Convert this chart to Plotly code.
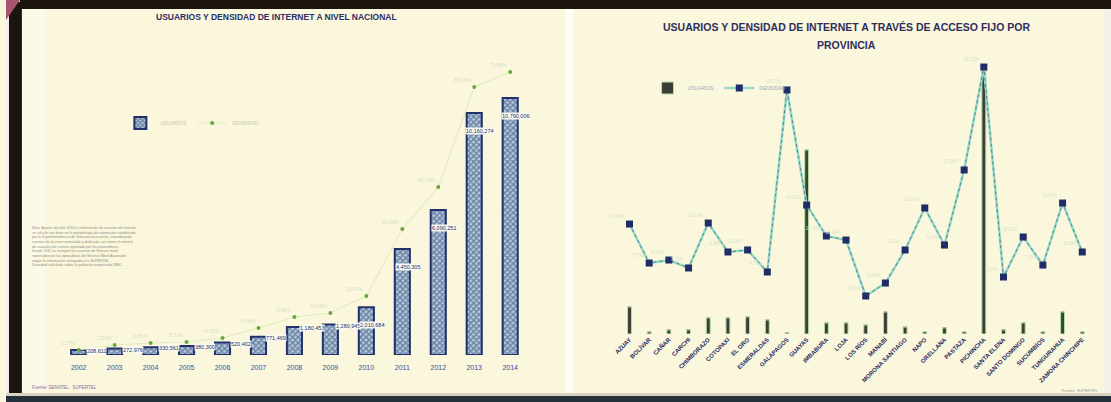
import plotly.graph_objects as go

# ---------------- data ----------------
years = ["2002", "2003", "2004", "2005", "2006", "2007", "2008",
         "2009", "2010", "2011", "2012", "2013", "2014"]
usuarios_nac = [208611, 272976, 330561, 380300, 520402, 771469, 1180453,
                1280945, 2010684, 4450305, 6090251, 10160274, 10790006]
densidad_nac = [1.27, 2.54, 3.05, 3.31, 4.32, 6.86, 9.66,
                10.68, 15.00, 32.03, 42.71, 68.14, 71.95]

provincias = ["AZUAY", "BOLÍVAR", "CAÑAR", "CARCHI", "CHIMBORAZO", "COTOPAXI",
              "EL ORO", "ESMERALDAS", "GALÁPAGOS", "GUAYAS", "IMBABURA", "LOJA",
              "LOS RÍOS", "MANABÍ", "MORONA SANTIAGO", "NAPO", "ORELLANA",
              "PASTAZA", "PICHINCHA", "SANTA ELENA", "SANTO DOMINGO",
              "SUCUMBÍOS", "TUNGURAHUA", "ZAMORA CHINCHIPE"]
usuarios_prov = [133000, 10000, 20000, 20000, 79000, 79000, 84000, 69000,
                 5000, 906000, 54000, 54000, 44000, 108000, 34000, 10000,
                 30000, 10000, 1325000, 20000, 54000, 10000, 108000, 10000]
densidad_prov = [12.04, 7.77, 8.10, 7.23, 12.15, 8.98, 9.20, 6.79, 26.72,
                 14.12, 10.73, 10.29, 4.16, 5.58, 9.20, 13.80, 9.74, 17.96,
                 29.23, 6.24, 10.62, 7.55, 14.34, 8.98]

W, H = 1111, 402


def px(x):
    return x / W


def py(y):
    return 1 - y / H


fig = go.Figure()

# ---- left chart: national ----
fig.add_trace(go.Bar(
    x=years, y=usuarios_nac, xaxis="x", yaxis="y", width=0.42,
    name="USUARIOS", legend="legend",
    marker=dict(color="#b4cdda",
                pattern=dict(shape="x", fgcolor="#22306e", size=4, solidity=0.6),
                line=dict(color="#22306e", width=2)),
))
fig.add_trace(go.Scatter(
    x=years, y=densidad_nac, xaxis="x", yaxis="y2", name="DENSIDAD",
    legend="legend", mode="lines+markers+text",
    line=dict(color="#e3ecbf", width=1.2),
    marker=dict(color="#66a83c", size=4),
    text=[f"{v:.2f}%" for v in densidad_nac], textposition="top left",
    textfont=dict(size=5, color="#d6e2c0"),
))
for i, v in enumerate(usuarios_nac):
    early = i < 8
    fig.add_annotation(
        x=i, y=v, xref="x", yref="y", text=f"{v:,}", showarrow=False,
        xanchor="center", yanchor="middle" if early else "top",
        xshift=18 if early else 6, yshift=-1 if early else -14,
        font=dict(size=5.5, color="#22306e", family="Liberation Sans"),
        bgcolor="#fbfaf0", borderpad=0,
    )

# ---- right chart: provinces ----
fig.add_trace(go.Bar(
    x=provincias, y=usuarios_prov, xaxis="x2", yaxis="y3", width=0.2,
    name="USUARIOS", legend="legend2",
    marker=dict(color="#3a4038", line=dict(color="#b6dfa0", width=1)),
    text=[f"{v:,}" for v in usuarios_prov], textposition="outside",
    textfont=dict(size=4.5, color="#5a5a60"), cliponaxis=False,
))
fig.add_trace(go.Scatter(
    x=provincias, y=densidad_prov, xaxis="x2", yaxis="y4", name="DENSIDAD",
    legend="legend2", mode="lines+markers+text",
    line=dict(color="#93dac8", width=2.5),
    marker=dict(color="#1f2c68", size=7, symbol="square"),
    text=[f"{v:.2f}%" for v in densidad_prov], textposition="top left",
    textfont=dict(size=4.5, color="#d8e4c8"), cliponaxis=False,
))
fig.add_trace(go.Scatter(
    x=provincias, y=densidad_prov, xaxis="x2", yaxis="y4", showlegend=False,
    mode="lines", line=dict(color="#2c3a6e", width=0.8, dash="dot"),
    opacity=0.7, hoverinfo="skip",
))

# ---- axes ----
fig.update_layout(
    width=W, height=H, margin=dict(l=0, r=0, t=0, b=0),
    paper_bgcolor="#fbf7dc", plot_bgcolor="rgba(0,0,0,0)",
    bargap=0.3, showlegend=True,
    font=dict(family="Liberation Sans"),
    xaxis=dict(domain=[px(55), px(525)], anchor="y", type="category",
               showgrid=False, zeroline=False, showline=False, ticks="",
               ticklabelstandoff=7,
               tickfont=dict(size=7, color="#3a4aa0"), range=[-0.5, 12.5]),
    yaxis=dict(domain=[py(355), py(60)], range=[0, 12390000], visible=False),
    yaxis2=dict(domain=[py(355), py(60)], range=[0, 75], overlaying="y",
                visible=False),
    xaxis2=dict(domain=[px(617), px(1092)], anchor="y3", type="category",
                showgrid=False, zeroline=False, showline=False, ticks="",
                tickangle=-45,
                tickfont=dict(size=6, color="#1f2a60", family="Liberation Sans",
                              weight="bold"),
                range=[-0.5, 23.5]),
    yaxis3=dict(domain=[py(334), py(60)], range=[0, 1350000], visible=False,
                anchor="x2"),
    yaxis4=dict(domain=[py(334), py(60)], range=[0, 30], overlaying="y3",
                visible=False, anchor="x2"),
    legend=dict(x=px(115), y=py(123), xanchor="left", yanchor="middle",
                orientation="h", bgcolor="rgba(0,0,0,0)",
                font=dict(size=5, color="#c8c8b0"), itemwidth=30),
    legend2=dict(x=px(645), y=py(88), xanchor="left", yanchor="middle",
                 orientation="h", bgcolor="rgba(0,0,0,0)",
                 font=dict(size=5, color="#a0a8b8"), itemwidth=30),
)

# ---- titles and texts ----
fig.add_annotation(
    x=px(272), y=py(17), xref="paper", yref="paper", showarrow=False,
    xanchor="center", yanchor="middle",
    text="<b>USUARIOS Y DENSIDAD DE INTERNET A NIVEL NACIONAL</b>",
    font=dict(size=8.5, color="#2a2f6a", family="Liberation Sans"),
)
for txt, yy in [("USUARIOS Y DENSIDAD DE INTERNET A TRAVÉS DE ACCESO FIJO POR", 27),
                ("PROVINCIA", 45)]:
    fig.add_annotation(
        x=px(845), y=py(yy), xref="paper", yref="paper", showarrow=False,
        xanchor="center", yanchor="middle", text=f"<b>{txt}</b>",
        font=dict(size=10.5, color="#2e2f5e", family="Liberation Sans"),
    )
nota = ("Nota: A partir del año 2010 la información de usuarios de Internet<br>"
        "se calcula con base en la metodología de estimación establecida<br>"
        "por la Superintendencia de Telecomunicaciones, considerando<br>"
        "cuentas de acceso conmutado y dedicado, así como el número<br>"
        "de usuarios por cuenta reportado por los proveedores.<br>"
        "Desde 2011 se incluyen los usuarios de Internet móvil<br>"
        "reportados por las operadoras del Servicio Móvil Avanzado<br>"
        "según la información entregada a la SUPERTEL.<br>"
        "Densidad calculada sobre la población proyectada INEC.")
fig.add_annotation(
    x=px(24), y=py(224), xref="paper", yref="paper", showarrow=False,
    xanchor="left", yanchor="top", align="left", text=nota,
    font=dict(size=3.6, color="#8c8c86"),
)
fig.add_annotation(
    x=px(24), y=py(387), xref="paper", yref="paper", showarrow=False,
    xanchor="left", yanchor="middle", text="Fuente: SENATEL · SUPERTEL",
    font=dict(size=4.5, color="#8a6aa8"),
)
fig.add_annotation(
    x=px(1100), y=py(390), xref="paper", yref="paper", showarrow=False,
    xanchor="right", yanchor="middle", text="Fuente: SUPERTEL",
    font=dict(size=4, color="#9a9aa0"),
)

# ---- frame shapes ----
def prect(x0, x1, y0, y1, color, layer="above"):
    return dict(type="rect", xref="paper", yref="paper",
                x0=px(x0), x1=px(x1), y0=py(y1), y1=py(y0),
                fillcolor=color, line_width=0, layer=layer)


shapes = [
    prect(16, 40, 9, 393, "#fcfae6", "below"),
    prect(562, 570, 9, 395, "#fffef6", "below"),
    prect(1104, 1111, 9, 402, "#f2f0e8", "below"),
    prect(0, 3, 0, 402, "#f4eef0"),
    prect(0, 1111, 2, 9, "#1c150e"),
    prect(14, 1111, 0, 2, "#1c150e"),
    prect(3, 16, 2, 396, "#1c150e"),
    prect(0, 1111, 393, 396, "#d8d2c0"),
    prect(0, 1111, 396, 402, "#26303a"),
    dict(type="path", xref="paper", yref="paper",
         path=f"M 0 1 L {px(14)} 1 L 0 {py(20)} Z",
         fillcolor="#a8566f", line_width=0, layer="above"),
]
fig.update_layout(shapes=shapes)

fig.write_html("out.html")
